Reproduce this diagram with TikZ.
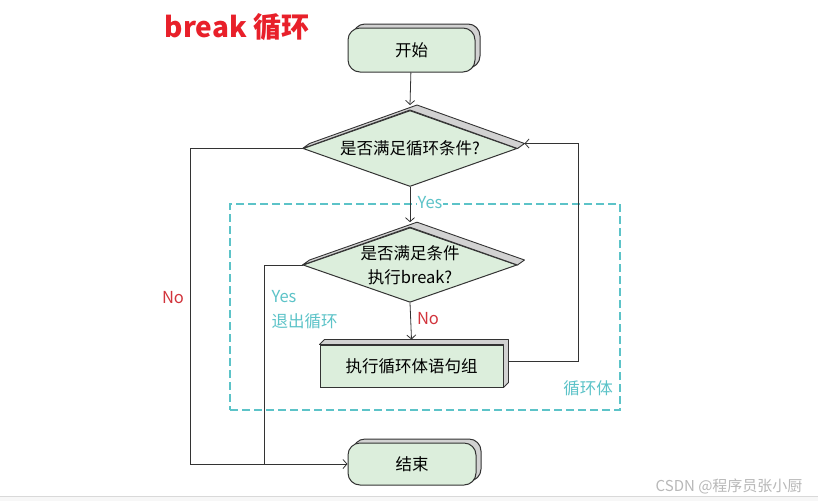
\documentclass[tikz,border=0pt]{standalone}
\usepackage{fontspec}
\setmainfont{Noto Sans CJK SC}
\usetikzlibrary{shapes.geometric, arrows.meta, shadows}
\definecolor{boxgreen}{HTML}{DCEEDC}
\definecolor{boxshade}{HTML}{D2D2D2}
\definecolor{linegray}{HTML}{333333}
\definecolor{loopteal}{HTML}{5CC3C8}
\definecolor{nored}{HTML}{D2343C}
\definecolor{titlered}{HTML}{E8202A}
\tikzstyle{arrow} = [draw=linegray, line width=0.8pt, -{Straight Barb[length=4pt,width=9pt]}]
\tikzstyle{line} = [draw=linegray, line width=0.8pt]
\tikzstyle{side} = [fill=boxshade, draw=linegray, line width=0.9pt, line join=round]
\tikzstyle{terminal} = [rectangle, rounded corners=12pt, draw=linegray, line width=1pt, fill=boxgreen, minimum width=127pt, minimum height=44pt, copy shadow={shadow xshift=5pt, shadow yshift=4pt, fill=boxshade, draw=linegray}]
\tikzstyle{decision} = [diamond, aspect=2.8, inner sep=0pt, draw=linegray, line width=1pt, fill=boxgreen, minimum width=214pt, minimum height=76pt, align=center]
\tikzstyle{process} = [rectangle, draw=linegray, line width=1pt, fill=boxgreen, minimum width=183pt, minimum height=42pt]

\begin{document}
\begin{tikzpicture}[x=1pt, y=-1pt, font=\fontsize{16.5}{24}\selectfont]

\useasboundingbox (0,0) rectangle (818,501);
\fill[white] (0,0) rectangle (818,501);
\fill[black!3] (0,496) rectangle (818,501);
\draw[black!15] (0,496) -- (818,496);

\node[text=titlered, font=\bfseries\fontsize{28}{32}\selectfont] (title) at (237,27) {break 循环};

% loop body frame
\node[draw=loopteal, dash pattern=on 8pt off 4pt, line width=1.1pt, minimum width=390pt, minimum height=206pt] (loopbox) at (425,307) {};
\node[text=loopteal] (looplabel) at (588,388) {循环体};

% main column
\node[terminal] (start) at (411.5,50) {开始};
\node[decision] (cond) at (410,148.5) {是否满足循环条件?};
\node[decision, minimum height=74pt] (brk) at (410,265) {是否满足条件\\执行break?};
\node[process] (body) at (411.5,366) {执行循环体语句组};
\node[terminal, minimum width=128pt, minimum height=42pt] (stop) at (412,464) {结束};

% raised sides
\filldraw[side] (cond.west) -- ++(7,-5) -- ([shift={(7,-5)}]cond.north) -- ([shift={(7,-5)}]cond.east) -- (cond.east) -- (cond.north) -- cycle;
\filldraw[side] (brk.west) -- ++(7,-5) -- ([shift={(7,-5)}]brk.north) -- ([shift={(7,-5)}]brk.east) -- (brk.east) -- (brk.north) -- cycle;
\filldraw[side] (body.north west) -- ++(5,-5) -- ([shift={(5,-5)}]body.north east) -- ([shift={(5,-5)}]body.south east) -- (body.south east) -- (body.north east) -- cycle;

\draw [arrow] (start) -- ([yshift=5pt]cond.north);
\draw [arrow] (cond.south) -- ([yshift=5pt]brk.north);
\draw [arrow] (brk.south) -- ([yshift=5pt]body.north);

\node[text=loopteal, fill=white, inner sep=1pt] (yes_c) at (430,203) {Yes};
\node[text=nored] (no_b) at (428,319) {No};

% exits on the left
\coordinate (join) at (264,464);
\draw [arrow] (cond.west) -- ++(-112,0) |- (stop.west);
\draw [line] (brk.west) -| (join);
\node[text=nored] (no_c) at (173,298) {No};
\node[text=loopteal, align=left, anchor=west, font=\fontsize{16.5}{25}\selectfont] (yes_b) at (268,310) {Yes\\退出循环};

% back to the test
\coordinate (back) at (578,143.5);
\draw [arrow] ([shift={(5pt,5pt)}]body.east) -| (back) -- ([shift={(7pt,5pt)}]cond.east);

\node[text=black!28, anchor=east, font=\fontsize{15}{18}\selectfont] (mark) at (806,486) {CSDN @程序员张小厨};

\end{tikzpicture}
\end{document}
